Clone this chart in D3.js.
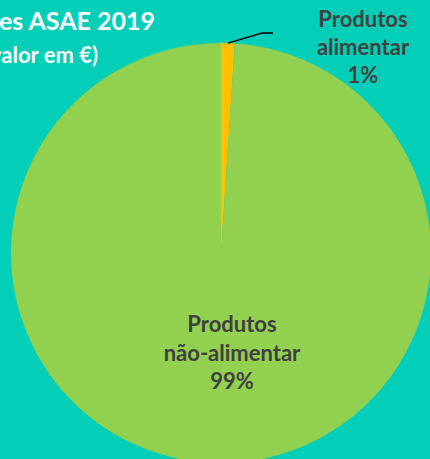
<!DOCTYPE html>
<html>
<head>
<meta charset="utf-8">
<script src="https://cdn.jsdelivr.net/npm/d3@7"></script>
<style>
  body { margin: 0; background: #03CFB8; }
  svg { display: block; font-family: Lato, "Open Sans", sans-serif; }
</style>
</head>
<body>
<div id="chart"></div>
<script>
// Chart data
const categories = ["Produtos alimentar", "Produtos não-alimentar"];
const values = [1.05, 98.95];
const percentLabels = ["1%", "99%"];
const colours = ["#FFC000", "#92D050"];
const titleLines = ["Apreensões ASAE 2019", "(valor em €)"];

const width = 430, height = 459;
const cx = 221, cy = 253, radius = 210;

const svg = d3.select("#chart")
  .append("svg")
  .attr("width", width)
  .attr("height", height);

svg.append("rect")
  .attr("width", width)
  .attr("height", height)
  .attr("fill", "#03CFB8");

const pie = d3.pie().sort(null).value(d => d);
const arcs = pie(values);
const arc = d3.arc().innerRadius(0).outerRadius(radius);

const g = svg.append("g")
  .attr("transform", `translate(${cx},${cy})`);

g.selectAll("path")
  .data(arcs)
  .join("path")
  .attr("d", arc)
  .attr("fill", (d, i) => colours[i]);

// Title (cut off on the left as in the original)
svg.append("text")
  .attr("x", 155)
  .attr("y", 30)
  .attr("text-anchor", "end")
  .attr("fill", "#fff")
  .attr("font-weight", "bold")
  .attr("font-size", 25)
  .text(titleLines[0]);

svg.append("text")
  .attr("x", 98)
  .attr("y", 63)
  .attr("text-anchor", "end")
  .attr("fill", "#fff")
  .attr("font-weight", "bold")
  .attr("font-size", 22)
  .text(titleLines[1]);

// Leader line for small slice
const small = arcs[0];
const edge = d3.arc().innerRadius(radius).outerRadius(radius).centroid(small);
svg.append("polyline")
  .attr("points", [[cx + edge[0], cy + edge[1]], [262, 33], [273, 33]].map(p => p.join(",")).join(" "))
  .attr("fill", "none")
  .attr("stroke", "#000")
  .attr("stroke-width", 1.5);

// Labels
function addLabel(x, y, lines, size, gap) {
  const t = svg.append("text")
    .attr("text-anchor", "middle")
    .attr("fill", "#404040")
    .attr("font-weight", "bold")
    .attr("font-size", size);
  lines.forEach((s, i) => {
    t.append("tspan").attr("x", x).attr("y", y + i * gap).text(s);
  });
}

addLabel(363, 27, ["Produtos", "alimentar", percentLabels[0]], 22, 28);
addLabel(232, 332, ["Produtos", "não-alimentar", percentLabels[1]], 22, 28.5);
</script>
</body>
</html>
